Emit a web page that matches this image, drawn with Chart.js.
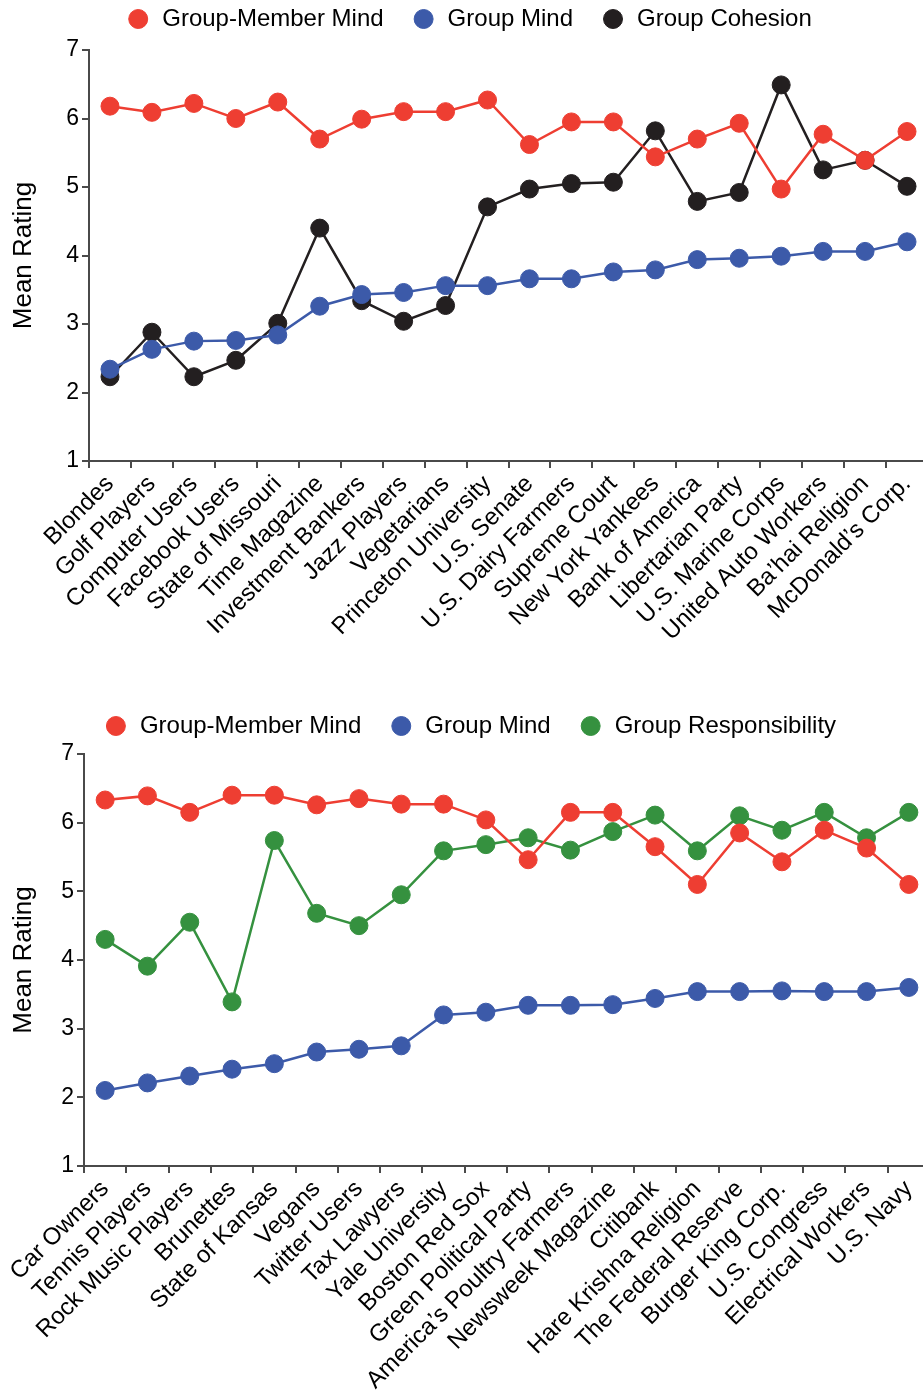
<!DOCTYPE html>
<html>
<head>
<meta charset="utf-8">
<script src="https://cdn.jsdelivr.net/npm/chart.js@4.4.0/dist/chart.umd.min.js"></script>
<style>
html, body { margin:0; padding:0; background:#fff; overflow:hidden; width:923px; height:1390px; }
.box { position:absolute; left:0; }
#top { top:-21px; width:938px; height:711px; }
#bot { top:686px; width:940px; height:704px; }
</style>
</head>
<body>
<div class="box" id="top"><canvas id="c1"></canvas></div>
<div class="box" id="bot"><canvas id="c2"></canvas></div>
<script>
// top panel
var topCategories = ['Blondes','Golf Players','Computer Users','Facebook Users','State of Missouri','Time Magazine','Investment Bankers','Jazz Players','Vegetarians','Princeton University','U.S. Senate','U.S. Dairy Farmers','Supreme Court','New York Yankees','Bank of America','Libertarian Party','U.S. Marine Corps','United Auto Workers','Ba\u2019hai Religion','McDonald\u2019s Corp.'];
var topMemberMind = [6.18,6.09,6.22,6.00,6.24,5.70,5.99,6.10,6.10,6.27,5.62,5.95,5.95,5.44,5.70,5.93,4.97,5.77,5.39,5.81];
var topGroupMind = [2.34,2.63,2.75,2.76,2.84,3.26,3.43,3.46,3.56,3.56,3.66,3.66,3.76,3.79,3.94,3.96,3.99,4.06,4.06,4.20];
var topCohesion = [2.23,2.88,2.23,2.47,3.01,4.40,3.34,3.04,3.27,4.71,4.97,5.05,5.07,5.82,4.79,4.92,6.49,5.25,5.39,5.01];

// bottom panel
var botCategories = ['Car Owners','Tennis Players','Rock Music Players','Brunettes','State of Kansas','Vegans','Twitter Users','Tax Lawyers','Yale University','Boston Red Sox','Green Political Party','America\u2019s Poultry Farmers','Newsweek Magazine','Citibank','Hare Krishna Religion','The Federal Reserve','Burger King Corp.','U.S. Congress','Electrical Workers','U.S. Navy'];
var botMemberMind = [6.33,6.39,6.15,6.40,6.40,6.26,6.35,6.27,6.27,6.04,5.46,6.15,6.15,5.65,5.10,5.85,5.43,5.89,5.63,5.10];
var botGroupMind = [2.10,2.21,2.31,2.41,2.49,2.66,2.70,2.75,3.20,3.24,3.34,3.34,3.35,3.44,3.54,3.54,3.55,3.54,3.54,3.60];
var botResponsibility = [4.30,3.91,4.55,3.39,5.74,4.68,4.50,4.95,5.59,5.68,5.78,5.60,5.87,6.11,5.59,6.10,5.89,6.15,5.78,6.15];

var yTicks = [1,2,3,4,5,6,7];

var RED = '#ee3e32', BLUE = '#3c5aa9', BLACK = '#231f20', GREEN = '#35913f';
var AXIS = '#4a4a4a';
var FONT = "'Liberation Sans', Arial, Helvetica, sans-serif";
Chart.defaults.font.family = FONT;

// leaves some room between the legend and the plot area
var legendGap = {
    id: 'legendGap',
    beforeLayout: function (chart, args, opts) {
        var lg = chart.legend;
        if (lg && !lg._gapWrapped) {
            var fit = lg.fit;
            lg.fit = function () { fit.apply(this, arguments); this.height += opts.gap || 0; };
            lg._gapWrapped = true;
        }
    }
};

function series(label, data, color) {
    return {
        label: label, data: data,
        borderColor: color, backgroundColor: color,
        pointBackgroundColor: color, pointBorderColor: color,
        borderWidth: 2.5, pointRadius: 9, pointBorderWidth: 1,
        tension: 0, fill: false
    };
}

function makeChart(id, labels, datasets, cfg) {
    return new Chart(document.getElementById(id).getContext('2d'), {
        type: 'line',
        data: { labels: labels, datasets: datasets },
        plugins: [legendGap],
        options: {
            responsive: true,
            maintainAspectRatio: false,
            animation: false,
            layout: { padding: 0 },
            plugins: {
                legendGap: { gap: cfg.gap },
                legend: {
                    position: 'top',
                    labels: {
                        usePointStyle: true, pointStyle: 'circle', boxHeight: 13.4,
                        padding: 28, color: '#000',
                        font: { size: 24 }
                    }
                },
                tooltip: { enabled: false }
            },
            scales: {
                x: {
                    offset: true,
                    grid: { display: true, drawOnChartArea: false, offset: true, tickLength: 7, color: AXIS, lineWidth: 2 },
                    border: { display: true, color: AXIS, width: 2 },
                    ticks: { autoSkip: false, minRotation: 45, maxRotation: 45, color: '#000', padding: 2, font: { size: 24 } },
                    afterFit: function (s) { s.height = cfg.xHeight; s.paddingLeft = 0; s.paddingRight = 0; }
                },
                y: {
                    min: yTicks[0], max: yTicks[yTicks.length - 1],
                    afterBuildTicks: function (s) { s.ticks = yTicks.map(function (v) { return { value: v }; }); },
                    grid: { display: true, drawOnChartArea: false, tickLength: 7, color: AXIS, lineWidth: 2 },
                    border: { display: true, color: AXIS, width: 2 },
                    ticks: { color: '#000', padding: 3, font: { size: 23 } },
                    title: { display: true, text: 'Mean Rating', color: '#000', padding: { top: 8, bottom: 0 }, font: { size: 26 } },
                    afterFit: function (s) { s.width = cfg.yWidth; s.paddingTop = cfg.areaTop; }
                }
            }
        }
    });
}

makeChart('c1', topCategories, [
    series('Group-Member Mind', topMemberMind, RED),
    series('Group Mind', topGroupMind, BLUE),
    series('Group Cohesion', topCohesion, BLACK)
], { xHeight: 229, yWidth: 89, areaTop: 71, gap: 9 });

makeChart('c2', botCategories, [
    series('Group-Member Mind', botMemberMind, RED),
    series('Group Mind', botGroupMind, BLUE),
    series('Group Responsibility', botResponsibility, GREEN)
], { xHeight: 224, yWidth: 84, areaTop: 68, gap: 6 });
</script>
</body>
</html>
